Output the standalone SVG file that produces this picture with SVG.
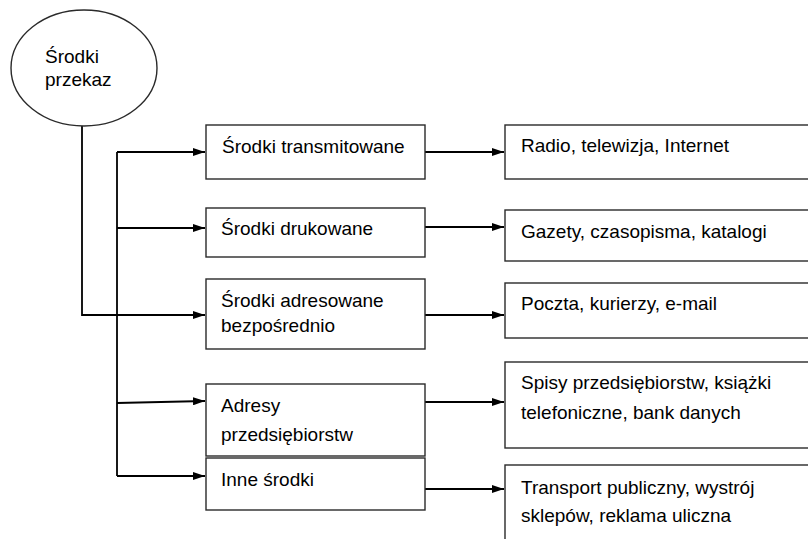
<svg xmlns="http://www.w3.org/2000/svg" width="808" height="539" viewBox="0 0 808 539">
<defs>
<style>
.box{fill:#fff;stroke:#2a2a2a;stroke-width:1.4}
.t{font-family:"Liberation Sans",Arial,sans-serif;font-size:19px;fill:#000}
.c{fill:none;stroke:#000;stroke-width:1.8}
</style>
<marker id="ah" viewBox="0 0 12 8" refX="12" refY="4" markerWidth="12" markerHeight="8" markerUnits="userSpaceOnUse" orient="auto">
<path d="M0,0 L12,4 L0,8 Z" fill="#000"/>
</marker>
</defs>
<rect width="808" height="539" fill="#fff"/>
<g id="connectors">
<path class="c" d="M82,126 V315 H205" marker-end="url(#ah)"/>
<path class="c" d="M117,152 V476"/>
<path class="c" d="M117,152 H205" marker-end="url(#ah)"/>
<path class="c" d="M117,228 H205" marker-end="url(#ah)"/>
<path class="c" d="M117,403 L205,401" marker-end="url(#ah)"/>
<path class="c" d="M117,476 H205" marker-end="url(#ah)"/>
<path class="c" d="M425,152 H504" marker-end="url(#ah)"/>
<path class="c" d="M425,227 H504" marker-end="url(#ah)"/>
<path class="c" d="M425,315 H504" marker-end="url(#ah)"/>
<path class="c" d="M425,402 H504" marker-end="url(#ah)"/>
<path class="c" d="M425,489 H504" marker-end="url(#ah)"/>
</g>
<g id="root">
<ellipse class="box" cx="84" cy="68" rx="73" ry="58"/>
<text class="t" x="45" y="63">Środki</text>
<text class="t" x="45" y="86">przekaz</text>
</g>
<g id="m1"><rect class="box" x="206" y="125" width="219" height="54"/><text class="t" x="222" y="153">Środki transmitowane</text></g>
<g id="m2"><rect class="box" x="206" y="208" width="219" height="49"/><text class="t" x="221" y="235">Środki drukowane</text></g>
<g id="m3"><rect class="box" x="206" y="279" width="219" height="70"/><text class="t" x="221" y="307">Środki adresowane</text><text class="t" x="221" y="332">bezpośrednio</text></g>
<g id="m4"><rect class="box" x="206" y="384" width="219" height="72"/><text class="t" x="221" y="412">Adresy</text><text class="t" x="221" y="441">przedsiębiorstw</text></g>
<g id="m5"><rect class="box" x="206" y="458" width="219" height="52"/><text class="t" x="221" y="486">Inne środki</text></g>
<g id="r1"><rect class="box" x="505" y="125" width="320" height="54"/><text class="t" x="521" y="152">Radio, telewizja, Internet</text></g>
<g id="r2"><rect class="box" x="505" y="210" width="320" height="51"/><text class="t" x="521" y="238">Gazety, czasopisma, katalogi</text></g>
<g id="r3"><rect class="box" x="505" y="283" width="320" height="55"/><text class="t" x="521" y="310">Poczta, kurierzy, e-mail</text></g>
<g id="r4"><rect class="box" x="505" y="362" width="320" height="86"/><text class="t" x="521" y="389">Spisy przedsiębiorstw, książki</text><text class="t" x="521" y="419">telefoniczne, bank danych</text></g>
<g id="r5"><rect class="box" x="505" y="465" width="320" height="90"/><text class="t" x="521" y="494">Transport publiczny, wystrój</text><text class="t" x="521" y="522">sklepów, reklama uliczna</text></g>
</svg>
